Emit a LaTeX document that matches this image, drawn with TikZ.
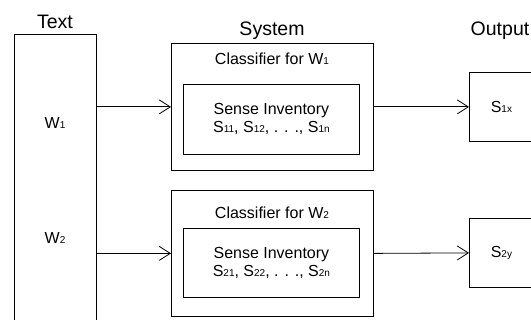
\documentclass[tikz,border=0pt]{standalone}
\usepackage{fontspec}
\setmainfont{Liberation Sans}
\usetikzlibrary{arrows.meta,positioning}
\newcommand{\idx}[1]{{\fontsize{10}{10}\selectfont #1}}

\begin{document}
\begin{tikzpicture}[x=1pt,y=-1pt,font=\fontsize{16}{18}\selectfont,
    boite/.style={draw, line width=0.8pt, inner sep=0pt},
    titre/.style={font=\fontsize{19.5}{20}\selectfont},
    fleche/.style={line width=0.8pt, -{Straight Barb[length=11pt,width=14pt]}}]
  \useasboundingbox (0,0) rectangle (531,320);
  \clip (0,0) rectangle (531,320);

  % Texte
  \node[boite, anchor=north west, minimum width=82pt, minimum height=300pt] (texte) at (14,34) {};
  \node[titre] (ltexte) at (55,22) {Text};
  \node (w1) at (55,123) {W\idx{1}};
  \node (w2) at (55,238) {W\idx{2}};

  % Systeme
  \node[titre] (lsys) at (272,31) {System};
  \node[boite, anchor=north west, minimum width=202pt, minimum height=127pt] (sys1) at (171,43) {};
  \node[boite, anchor=north west, minimum width=202pt, minimum height=126pt] (sys2) at (171,190) {};
  \node (c1) at (272,59) {Classifier for W\idx{1}};
  \node (c2) at (272,213) {Classifier for W\idx{2}};
  \node[boite, anchor=north west, minimum width=176pt, minimum height=70pt, align=center] (inv1) at (183,84)
    {Sense Inventory\\S\idx{11}, S\idx{12}, . . ., S\idx{1n}};
  \node[boite, anchor=north west, minimum width=176pt, minimum height=69pt, align=center] (inv2) at (183,228)
    {Sense Inventory\\S\idx{21}, S\idx{22}, . . ., S\idx{2n}};

  % Sortie
  \node[titre] (lsortie) at (500,31) {Output};
  \node[boite, anchor=north west, minimum width=64pt, minimum height=69pt] (s1) at (469,72) {S\idx{1x}};
  \node[boite, anchor=north west, minimum width=64pt, minimum height=69pt] (s2) at (469,218) {S\idx{2y}};

  % Fleches
  \draw[fleche] (texte.east |- sys1.west) -- (sys1.west);
  \draw[fleche] (texte.east |- sys2.west) -- (sys2.west);
  \draw[fleche] (sys1.east) -- (s1.west);
  \draw[fleche] (sys2.east) -- (s2.west);
\end{tikzpicture}
\end{document}
